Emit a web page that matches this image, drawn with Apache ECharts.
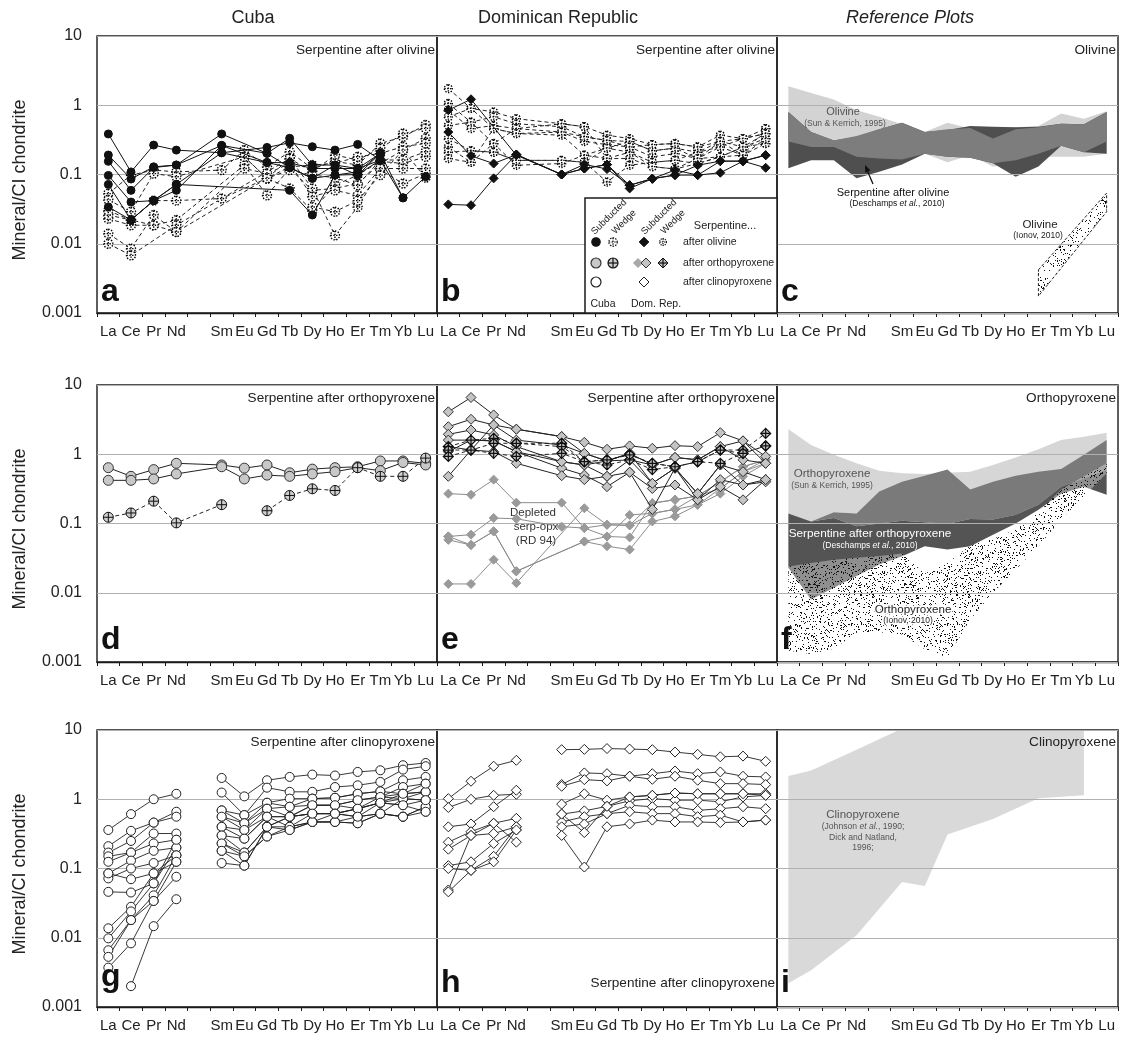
<!DOCTYPE html>
<html><head><meta charset="utf-8">
<script src="https://cdn.jsdelivr.net/npm/echarts/dist/echarts.min.js"></script>
<style>html,body{margin:0;padding:0;background:#fff}#c{width:1121px;height:1040px}</style>
</head><body><div id="c"></div>
<script>
// ---------- categories / ticks ----------
const elements = ['La','Ce','Pr','Nd','Pm','Sm','Eu','Gd','Tb','Dy','Ho','Er','Tm','Yb','Lu'];
const tickLabels = ['La','Ce','Pr','Nd','','Sm','Eu','Gd','Tb','Dy','Ho','Er','Tm','Yb','Lu'];
const yTickLabels = ['0.001','0.01','0.1','1','10'];
const columnTitles = ['Cuba','Dominican Republic','Reference Plots'];
const panelLetters = ['a','b','c','d','e','f','g','h','i'];
const panelNotes = ['Serpentine after olivine','Serpentine after olivine','Olivine',
  'Serpentine after orthopyroxene','Serpentine after orthopyroxene','Orthopyroxene',
  'Serpentine after clinopyroxene','Serpentine after clinopyroxene','Clinopyroxene'];
// null = not measured (line joins over), '-' = line broken there

// ---------- a: Cuba, serpentine after olivine ----------
const cubaOlivineSubducted = [
 [0.385,0.109,0.266,0.225,null,0.206,null,0.246,0.287,0.252,0.225,0.272,0.161,null,null],
 [0.191,0.086,0.129,0.137,null,0.385,null,0.202,0.333,0.137,0.137,0.098,0.202,0.046,0.093],
 [0.155,0.059,0.126,0.137,null,0.263,null,0.149,0.148,0.122,0.122,0.122,0.161,null,null],
 [0.097,0.040,0.042,0.072,null,0.206,null,0.149,0.126,0.088,0.098,0.109,0.202,null,null],
 [0.072,0.022,0.042,0.072,null,null,null,null,0.059,0.026,0.098,0.100,0.161,0.046,null],
 [0.034,0.022,0.042,0.059,null,0.263,null,0.202,0.126,0.088,0.137,0.122,0.202,null,null]
];
const cubaOlivineWedge = [
 [0.053,0.098,0.116,0.109,null,0.116,0.225,0.129,0.213,0.122,0.155,0.137,0.281,0.35,0.52],
 [0.043,0.029,0.103,0.093,null,null,0.18,0.088,0.17,0.109,0.191,0.162,0.238,0.39,0.464],
 [0.023,0.0185,0.0185,0.022,null,null,0.137,0.05,0.122,0.059,0.063,0.074,0.144,0.225,0.333],
 [0.014,0.0085,0.026,0.0148,null,null,null,0.088,0.063,0.03,0.07,0.098,0.155,0.144,0.18],
 [0.010,0.0068,null,0.0185,null,null,null,null,0.17,0.063,0.0132,0.034,0.116,0.074,0.103],
 [0.026,0.022,0.042,0.042,null,0.045,null,0.088,0.116,0.098,0.09,0.07,0.162,0.162,0.213],
 [0.03,0.022,0.0185,0.0148,null,null,0.122,0.103,0.144,0.048,0.059,0.05,0.122,0.122,0.122],
 [null,null,null,null,null,null,0.18,0.088,0.129,0.137,0.145,0.18,0.202,0.252,0.281],
 [null,null,null,null,null,null,null,null,null,0.034,0.029,0.042,0.098,0.225,0.09]
];
// ---------- b: Dominican Republic, serpentine after olivine ----------
const domOlivineSubducted = [
 [0.41,0.186,0.144,0.194,null,0.10,0.122,0.139,0.07,0.087,0.098,0.098,0.106,0.156,0.125],
 [0.037,0.036,0.088,0.194,null,0.10,0.122,0.139,0.063,0.087,0.116,0.098,0.156,0.156,0.19],
 [0.85,1.22,null,0.19,null,0.10,0.14,0.12,0.07,0.087,0.098,0.136,0.156,0.156,0.19]
];
const domOlivineWedge = [
 [1.74,0.9,0.8,0.64,null,0.54,0.49,0.37,0.33,0.27,0.28,0.25,0.37,0.33,0.46],
 [1.06,0.57,0.68,0.54,null,0.49,0.35,0.31,0.30,0.22,0.24,0.21,0.30,0.25,0.39],
 [0.85,0.46,0.51,0.46,null,0.41,0.30,0.27,0.25,0.18,0.20,0.17,0.25,0.19,0.33],
 [0.68,0.9,0.46,0.39,null,0.37,0.19,0.24,0.21,0.15,0.16,0.144,0.18,0.25,0.28],
 [0.51,0.57,0.28,0.46,null,0.54,0.49,0.17,0.17,0.13,0.12,0.17,0.30,0.19,0.46],
 [0.33,0.22,0.21,0.16,null,0.16,0.15,0.078,0.136,0.15,0.16,0.21,0.25,0.33,0.39],
 [0.25,0.15,0.28,0.136,null,0.144,0.19,0.17,0.21,0.13,0.12,0.144,0.18,0.19,0.28],
 [0.21,0.22,0.21,0.16,null,0.16,0.15,0.24,0.30,0.22,0.24,0.17,0.18,0.25,0.33],
 [0.17,0.15,0.46,0.39,null,0.41,0.35,0.31,0.25,0.27,0.28,0.25,0.30,0.33,0.39]
];
// ---------- d: Cuba, serpentine after orthopyroxene ----------
const cubaOpxSubducted = [
 [0.64,0.48,0.60,0.74,null,0.70,0.63,0.70,0.54,0.61,0.64,0.66,0.80,0.80,0.74],
 [0.42,0.42,0.44,0.52,null,0.66,0.44,0.50,0.48,0.52,0.56,0.64,0.58,0.76,0.70]
];
const cubaOpxWedge = [
 [0.123,0.142,0.21,0.102,null,0.187,'-',0.153,0.254,0.317,0.30,0.64,0.48,0.48,0.88]
];
// ---------- e: Dominican Republic, serpentine after orthopyroxene ----------
const domOpxSubducted = [
 [4.1,6.6,3.7,2.3,null,1.8,1.49,1.18,1.32,1.22,1.33,1.29,2.05,1.56,0.93],
 [2.5,3.2,2.65,1.6,null,1.36,1.03,0.8,1.03,0.70,0.9,0.83,1.29,0.83,0.74],
 [1.94,2.24,1.9,1.29,null,0.78,0.7,0.48,0.83,0.38,0.63,0.27,0.70,0.56,0.43],
 [1.6,1.6,1.56,1.09,null,0.63,0.5,0.34,0.55,0.32,0.36,0.22,0.43,0.36,0.40],
 [1.29,1.15,1.09,0.74,null,0.49,0.43,0.48,0.55,0.16,0.63,0.22,0.34,0.22,0.43],
 [0.48,1.15,2.65,2.3,null,1.8,1.03,0.8,0.83,0.70,0.9,0.83,1.29,1.56,0.74],
 [1.09,1.6,1.56,1.09,null,0.78,0.7,0.8,1.03,0.38,0.63,0.27,0.70,0.36,0.43]
];
const domOpxWedge = [
 [1.29,1.6,1.7,1.44,null,1.44,0.78,0.83,0.98,0.74,0.66,0.78,1.15,1.15,2.0],
 [1.15,1.15,1.44,1.44,null,1.29,0.78,0.70,0.83,0.60,0.66,0.78,1.15,1.03,1.32],
 [0.93,1.15,1.03,0.93,null,1.03,0.78,0.83,0.98,0.74,0.66,0.78,0.74,1.03,1.32]
];
const domOpxDepleted = [
 [0.27,0.26,0.43,0.20,null,0.20,0.086,0.065,0.063,0.197,0.22,0.25,0.40,0.66,0.83],
 [0.065,0.069,0.12,0.117,null,0.09,0.086,0.096,0.094,0.14,0.16,0.186,0.32,0.56,0.74],
 [0.058,0.049,0.077,0.0204,null,null,0.055,0.047,0.042,0.107,0.127,0.186,0.27,0.48,0.74],
 [0.0134,0.0134,0.03,0.0138,null,null,0.166,0.096,0.094,0.197,0.22,0.25,0.32,0.56,0.83],
 [0.065,0.049,0.077,0.0204,null,null,0.055,0.065,0.133,0.14,0.16,0.25,0.40,0.66,0.83]
];
// ---------- g: Cuba, serpentine after clinopyroxene ----------
const cubaCpx = [
 [0.36,0.61,1.0,1.2,'-',2.03,1.1,1.88,2.1,2.27,2.2,2.48,2.62,3.1,3.34],
 [0.21,0.35,0.46,0.66,'-',1.25,0.59,1.47,1.28,1.28,1.5,1.59,1.78,2.68,3.0],
 [0.17,0.25,0.46,0.56,'-',0.69,0.59,0.89,1.02,1.02,1.05,1.2,1.3,1.88,2.1],
 [0.15,0.17,0.32,0.32,'-',0.56,0.45,0.89,0.78,0.82,0.82,0.97,1.08,1.5,1.68],
 [0.125,0.17,0.23,0.26,'-',0.40,0.36,0.73,0.56,0.62,0.62,0.73,0.89,1.2,1.28],
 [0.085,0.13,0.18,0.2,'-',0.30,0.27,0.56,0.40,0.47,0.47,0.56,0.62,1.02,0.97],
 [0.072,0.10,0.12,0.155,'-',0.23,0.17,0.40,0.36,0.47,0.47,0.45,0.62,0.56,0.78],
 [0.085,0.07,0.085,0.125,'-',0.18,0.15,0.29,0.40,0.62,0.62,0.56,0.89,0.82,0.66],
 [0.046,0.045,0.061,0.2,'-',0.12,0.11,0.40,0.56,0.82,0.82,0.73,1.08,1.02,0.97],
 [0.0137,0.028,0.085,0.155,'-',0.69,0.45,0.73,0.78,1.02,1.05,1.2,1.3,1.2,1.28],
 [0.0098,0.024,0.061,0.26,'-',0.56,0.36,0.56,0.56,0.62,0.62,0.73,0.89,1.02,1.28],
 [0.0066,0.018,0.041,0.155,'-',0.40,0.27,0.56,0.56,0.82,0.82,0.97,1.08,1.2,1.68],
 [0.0053,0.018,0.034,0.125,'-',0.30,0.17,0.40,0.40,0.47,0.47,0.45,0.62,0.56,0.78],
 [0.0037,0.0083,0.034,0.076,'-',0.23,0.15,0.29,0.36,0.47,0.62,0.73,0.89,0.82,0.97],
 [null,0.002,0.0147,0.036,'-',0.18,0.11,0.40,0.56,0.62,0.62,0.56,0.62,0.56,0.66]
];
// ---------- h: Dominican Republic, serpentine after clinopyroxene ----------
const domCpx = [
 [1.02,1.82,3.0,3.65,'-',5.2,5.25,5.4,5.3,5.2,4.8,4.45,4.1,4.2,3.53],
 [0.76,1.0,1.14,1.18,'-',1.63,2.4,2.34,2.15,2.34,2.56,2.34,2.48,2.15,2.1],
 [0.40,0.44,0.78,1.35,'-',1.54,1.92,1.84,2.15,1.94,2.15,1.88,1.68,1.68,1.63],
 [0.24,0.34,0.45,0.53,'-',0.85,1.2,0.97,1.08,1.14,1.23,1.2,1.2,1.2,1.2],
 [0.19,0.30,0.32,0.40,'-',0.61,0.68,0.79,0.95,1.02,0.97,0.97,0.92,1.08,1.14],
 [0.11,0.125,0.23,0.36,'-',0.47,0.56,0.62,0.82,0.78,0.78,0.69,0.73,0.78,0.73],
 [0.10,0.094,0.15,0.40,'-',0.40,0.44,0.62,0.66,0.62,0.62,0.56,0.59,0.47,0.50],
 [0.049,0.30,0.45,0.24,'-',0.30,0.105,0.40,0.44,0.50,0.47,0.47,0.46,0.47,0.50],
 [0.046,0.094,0.125,0.36,'-',0.61,0.33,0.79,1.08,1.14,1.23,1.2,1.2,1.2,1.14]
];
// ---------- reference fields (upper / lower bounds) ----------
const olSunUpper = [1.88,1.50,1.21,0.85,0.68,0.53,0.41,0.56,0.46,0.45,0.48,0.50,0.76,0.64,0.82];
const olSunLower = [0.30,0.25,0.25,0.24,0.21,0.18,0.20,0.15,0.19,0.13,0.137,0.18,0.18,0.18,0.20];
const olDesUpper = [0.80,0.41,0.31,0.35,0.45,0.56,0.41,0.44,0.50,0.49,0.48,0.49,0.54,0.53,0.80];
const olDesLower = [0.123,0.16,0.16,0.088,0.11,0.14,0.20,0.18,0.175,0.145,0.093,0.13,0.26,0.21,0.20];
const olOverlapUpper = [0.80,0.41,0.31,0.36,0.45,0.56,0.41,0.45,0.47,0.33,0.45,0.48,0.54,0.53,0.80];
const olOverlapLower = [0.30,0.25,0.25,0.18,0.17,0.165,0.20,0.18,0.175,0.145,0.16,0.20,0.26,0.21,0.30];
const olIonovUpper = [null,null,null,null,null,null,null,null,null,null,null,0.0042,null,null,0.054];
const olIonovLower = [null,null,null,null,null,null,null,null,null,null,null,0.00175,null,null,0.029];

const opxSunUpper = [2.29,1.36,0.98,0.74,0.58,0.53,0.52,0.54,0.56,0.70,0.90,1.18,1.61,1.79,2.05];
const opxSunLower = [0.14,0.107,0.145,0.14,0.14,0.12,0.11,0.10,0.116,0.114,0.134,0.187,0.34,0.45,0.60];
const opxOverlapUpper = [0.14,0.107,0.145,0.14,0.29,0.40,0.49,0.60,0.31,0.40,0.49,0.56,0.61,0.98,1.61];
const opxDesUpper = [0.14,0.107,0.12,0.091,0.10,0.11,0.104,0.0995,0.116,0.114,0.134,0.187,0.34,0.45,0.60];
const opxDesLower = [0.023,0.008,0.0118,0.0174,0.0256,0.0337,0.047,0.042,0.047,0.069,0.10,0.158,0.27,0.34,0.26];
const opxIonovUpper = [0.024,0.027,0.030,0.032,0.034,0.037,0.019,0.027,0.048,0.060,0.081,0.145,0.31,0.48,0.74];
const opxIonovLower = [0.00145,0.0013,0.00156,0.00265,0.0027,0.0025,0.00153,0.00116,0.0041,0.010,0.0217,0.047,0.114,0.246,0.53];

const cpxUpper = [2.16,2.61,null,5.2,null,10.5,null,null,null,null,null,null,null,14,null];
const cpxLower = [0.0022,0.0034,null,0.0109,null,0.064,0.056,0.31,null,0.52,null,1.03,null,1.14,null];

// ---------- layout ----------
const FF = '"Liberation Sans", Arial, Helvetica, sans-serif';
const COL_L = [97, 437, 777], COL_W = [340, 340, 341], ROW_T = [36, 385, 730], ROW_H = 277;

const chart = echarts.init(document.getElementById('c'), null, {renderer: 'canvas'});

// stipple texture (deterministic dot pattern, style only)
function stipple(bg, count) {
  const N = 96;
  const c = document.createElement('canvas'); c.width = N; c.height = N;
  const g = c.getContext('2d');
  g.fillStyle = bg; g.fillRect(0, 0, N, N);
  g.fillStyle = '#111';
  let a = 20240611;
  const rnd = () => { a |= 0; a = a + 0x6D2B79F5 | 0; let t = Math.imul(a ^ a >>> 15, 1 | a);
    t = t + Math.imul(t ^ t >>> 7, 61 | t) ^ t; return ((t ^ t >>> 14) >>> 0) / 4294967296; };
  for (let k = 0; k < count; k++) g.fillRect(Math.floor(rnd() * N), Math.floor(rnd() * N), 1, 1);
  return c;
}
const stippleFill = {image: stipple('rgba(255,255,255,0.35)', 1200), repeat: 'repeat'};
const stippleLight = {image: stipple('rgba(255,255,255,0.95)', 900), repeat: 'repeat'};

const grids = [], xAxes = [], yAxes = [];
for (let r = 0; r < 3; r++) for (let c = 0; c < 3; c++) {
  const gi = r * 3 + c;
  grids.push({left: COL_L[c], top: ROW_T[r], width: COL_W[c], height: ROW_H, show: true,
    borderColor: '#1a1a1a', borderWidth: 1.4, backgroundColor: 'rgba(0,0,0,0)'});
  xAxes.push({type: 'category', gridIndex: gi, data: elements, boundaryGap: true,
    axisLine: {lineStyle: {color: '#1a1a1a', width: 1.4}},
    axisTick: {show: true, interval: 0, length: 4, lineStyle: {color: '#1a1a1a'}},
    axisLabel: {interval: 0, fontSize: 15, fontFamily: FF, color: '#222', margin: 11,
      formatter: (v, i) => tickLabels[i]},
    splitLine: {show: false}});
  yAxes.push({type: 'log', logBase: 10, min: 0.001, max: 10, gridIndex: gi, z: c === 2 ? 3 : 0,
    axisLine: {show: false}, axisTick: {show: false},
    axisLabel: {show: c === 0, fontSize: 16, fontFamily: FF, color: '#222', margin: 15,
      formatter: v => yTickLabels[Math.round(Math.log10(v)) + 3]},
    splitLine: {show: true, lineStyle: {color: '#b0b0b0', width: 1}}});
}

function toPairs(arr) {
  const out = [];
  arr.forEach((v, i) => { if (v === null) return; out.push([elements[i], v === '-' ? null : v]); });
  return out;
}
function lines(gi, sets, st) {
  return sets.map(arr => ({type: 'line', xAxisIndex: gi, yAxisIndex: gi, data: toPairs(arr),
    symbol: st.symbol, symbolSize: st.size, showAllSymbol: true, connectNulls: false, silent: true,
    lineStyle: {color: st.line, width: st.lw || 1, type: st.dash || 'solid'},
    itemStyle: {color: st.fill, borderColor: st.border, borderWidth: st.bw || 1, borderType: st.bt || 'solid'},
    z: st.z || 2}));
}
function band(gi, upper, lower, style) {
  return {type: 'custom', xAxisIndex: gi, yAxisIndex: gi, clip: true, silent: true, z: 1,
    data: [[0, 1]],
    renderItem: (p, api) => {
      const pts = [];
      upper.forEach((v, i) => { if (v !== null) pts.push(api.coord([i, v])); });
      for (let i = lower.length - 1; i >= 0; i--) if (lower[i] !== null) pts.push(api.coord([i, lower[i]]));
      return {type: 'polygon', shape: {points: pts}, style: Object.assign({}, style)};
    }};
}

const CROSS_CIRCLE = 'path://M10,0A10,10,0,1,1,10,20A10,10,0,1,1,10,0ZM10,0L10,20M0,10L20,10';
const CROSS_DIAMOND = 'path://M10,0L20,10L10,20L0,10ZM10,0L10,20M0,10L20,10';

const series = [].concat(
  lines(0, cubaOlivineWedge, {symbol: CROSS_CIRCLE, size: 9, fill: '#fff', border: '#000', bw: 1.4, bt: 'dotted', line: '#222', dash: [4, 3]}),
  lines(0, cubaOlivineSubducted, {symbol: 'circle', size: 8, fill: '#111', border: '#111', line: '#111', z: 3}),
  lines(1, domOlivineWedge, {symbol: CROSS_CIRCLE, size: 8, fill: '#fff', border: '#000', bw: 1.4, bt: 'dotted', line: '#222', dash: [4, 3]}),
  lines(1, domOlivineSubducted, {symbol: 'diamond', size: 9, fill: '#111', border: '#111', line: '#111', z: 3}),
  band(2, olSunUpper, olSunLower, {fill: '#d3d3d3'}),
  band(2, olDesUpper, olDesLower, {fill: '#4f4f4f'}),
  band(2, olOverlapUpper, olOverlapLower, {fill: '#7d7d7d'}),
  band(2, olIonovUpper, olIonovLower, {fill: stippleLight, stroke: '#222', lineWidth: 1, lineDash: [3, 2]}),
  lines(3, cubaOpxSubducted, {symbol: 'circle', size: 10, fill: '#c8c8c8', border: '#333', line: '#222'}),
  lines(3, cubaOpxWedge, {symbol: CROSS_CIRCLE, size: 10, fill: '#cfcfcf', border: '#111', bw: 1, line: '#222', dash: [4, 3]}),
  lines(4, domOpxDepleted, {symbol: 'diamond', size: 9, fill: '#9a9a9a', border: '#9a9a9a', line: '#8c8c8c'}),
  lines(4, domOpxSubducted, {symbol: 'diamond', size: 10, fill: '#c4c4c4', border: '#333', line: '#222', z: 3}),
  lines(4, domOpxWedge, {symbol: CROSS_DIAMOND, size: 10, fill: '#c4c4c4', border: '#111', bw: 1.2, line: '#222', dash: [4, 3], z: 4}),
  band(5, opxSunUpper, opxSunLower, {fill: '#d6d6d6'}),
  band(5, opxOverlapUpper, opxDesUpper, {fill: '#7a7a7a'}),
  band(5, opxDesUpper, opxDesLower, {fill: '#545454'}),
  band(5, opxIonovUpper, opxIonovLower, {fill: stippleFill}),
  lines(6, cubaCpx, {symbol: 'circle', size: 9, fill: '#fff', border: '#222', line: '#222', lw: 0.9}),
  lines(7, domCpx, {symbol: 'diamond', size: 10, fill: '#fff', border: '#222', line: '#222', lw: 0.9}),
  band(8, cpxUpper, cpxLower, {fill: '#d9d9d9'})
);

// ---------- text & legend graphics ----------
function txt(x, y, text, size, o) {
  o = o || {};
  const st = {text, font: `${o.italic ? 'italic ' : ''}${o.bold ? 'bold ' : ''}${size}px ${FF}`,
    fill: o.color || '#222', align: o.align || 'center', verticalAlign: o.va || 'middle'};
  if (o.rich) st.rich = o.rich;
  if (o.halo) { st.stroke = o.halo; st.lineWidth = 3; }
  return {type: 'text', x, y, rotation: o.rot || 0, z: o.z === undefined ? 100 : o.z, silent: true, style: st};
}
const itRich = (size, color) => ({i: {font: `italic ${size}px ${FF}`, fill: color}});
const G = [];
G.push(txt(253, 18, columnTitles[0], 18));
G.push(txt(558, 18, columnTitles[1], 18));
G.push(txt(910, 18, columnTitles[2], 18, {italic: true}));
ROW_T.forEach(t => G.push(txt(20.5, t + 144, 'Mineral/CI chondrite', 18, {rot: Math.PI / 2})));
const noteY = [50, 398, 742];
for (let r = 0; r < 3; r++) for (let c = 0; c < 3; c++) {
  const gi = r * 3 + c;
  const right = COL_L[c] + COL_W[c] - 2;
  const y = gi === 7 ? 983 : noteY[r];
  G.push(txt(right, y, panelNotes[gi], 13.6, {align: 'right'}));
  const bottom = ROW_T[r] + ROW_H;
  const by = r === 0 ? bottom - 5 : r === 1 ? bottom - 6 : (gi === 6 ? bottom - 14 : bottom - 8);
  G.push(txt(COL_L[c] + 4, by, panelLetters[gi], 32, {bold: true, align: 'left', va: 'bottom', color: '#111'}));
}
// panel c labels
G.push(txt(843, 112, 'Olivine', 11, {color: '#555'}));
G.push(txt(845, 124, '(Sun & Kerrich, 1995)', 8.5, {color: '#555'}));
G.push(txt(893, 193, 'Serpentine after olivine', 11, {color: '#111'}));
G.push(txt(897, 204, '(Deschamps {i|et al.}, 2010)', 8.5, {color: '#111', rich: itRich(8.5, '#111')}));
G.push({type: 'line', z: 100, silent: true, shape: {x1: 873, y1: 184, x2: 867, y2: 170}, style: {stroke: '#111', lineWidth: 1.3}});
G.push({type: 'polygon', z: 100, silent: true, shape: {points: [[865, 165], [870.6, 170.4], [865.2, 172.8]]}, style: {fill: '#111'}});
G.push(txt(1040, 225, 'Olivine', 11.5, {color: '#222'}));
G.push(txt(1038, 236, '(Ionov, 2010)', 8.5, {color: '#222'}));
// panel e label
G.push(txt(533, 513, 'Depleted', 11.5, {color: '#333', z: 1}));
G.push(txt(536, 527, 'serp-opx', 11.5, {color: '#333', z: 1}));
G.push(txt(536, 541, '(RD 94)', 11.5, {color: '#333', z: 1}));
// panel f labels
G.push(txt(832, 474, 'Orthopyroxene', 11.6, {color: '#555'}));
G.push(txt(832, 486, '(Sun & Kerrich, 1995)', 8.5, {color: '#555'}));
G.push(txt(870, 534, 'Serpentine after orthopyroxene', 11.8, {color: '#fff'}));
G.push(txt(870, 546, '(Deschamps {i|et al.}, 2010)', 8.5, {color: '#fff', rich: itRich(8.5, '#fff')}));
G.push(txt(913, 610, 'Orthopyroxene', 11.6, {color: '#222', halo: '#fff'}));
G.push(txt(908, 621, '(Ionov, 2010)', 8.5, {color: '#222', halo: '#fff'}));
// panel i labels
G.push(txt(863, 815, 'Clinopyroxene', 11.5, {color: '#555'}));
G.push(txt(863, 827, '(Johnson {i|et al.}, 1990;', 8.6, {color: '#555', rich: itRich(8.6, '#555')}));
G.push(txt(863, 838, 'Dick and Natland,', 8.6, {color: '#555'}));
G.push(txt(863, 848, '1996;', 8.6, {color: '#555'}));
// legend box in panel b
G.push({type: 'rect', z: 90, silent: true, shape: {x: 585, y: 198, width: 192, height: 115}, style: {fill: '#fff', stroke: '#1a1a1a', lineWidth: 1.5}});
const R45 = Math.PI / 4;
G.push(txt(609, 217, 'Subducted', 9.5, {rot: R45}));
G.push(txt(624, 222, 'Wedge', 9.5, {rot: R45}));
G.push(txt(659, 217, 'Subducted', 9.5, {rot: R45}));
G.push(txt(673, 222, 'Wedge', 9.5, {rot: R45}));
G.push(txt(725, 226, 'Serpentine...', 11));
G.push(txt(683, 242, 'after olivine', 10.5, {align: 'left'}));
G.push(txt(683, 263, 'after orthopyroxene', 10.5, {align: 'left'}));
G.push(txt(683, 282, 'after clinopyroxene', 10.5, {align: 'left'}));
G.push(txt(603, 304, 'Cuba', 10.5));
G.push(txt(656, 304, 'Dom. Rep.', 10.5));
function lgCircle(cx, cy, r, fill, stroke, dash) {
  return {type: 'circle', z: 100, silent: true, shape: {cx, cy, r}, style: {fill, stroke, lineWidth: 1.2, lineDash: dash || null}};
}
function lgCross(cx, cy, r, dash) {
  return [
    {type: 'line', z: 101, silent: true, shape: {x1: cx - r, y1: cy, x2: cx + r, y2: cy}, style: {stroke: '#111', lineWidth: 1.2, lineDash: dash || null}},
    {type: 'line', z: 101, silent: true, shape: {x1: cx, y1: cy - r, x2: cx, y2: cy + r}, style: {stroke: '#111', lineWidth: 1.2, lineDash: dash || null}}
  ];
}
function lgDiamond(cx, cy, h, fill, stroke) {
  return {type: 'polygon', z: 100, silent: true, shape: {points: [[cx, cy - h], [cx + h, cy], [cx, cy + h], [cx - h, cy]]}, style: {fill, stroke, lineWidth: 1}};
}
G.push(lgCircle(596, 242, 4.2, '#111', '#111'));
G.push(lgCircle(613, 242, 4.2, '#fff', '#111', [1.5, 1.2]), ...lgCross(613, 242, 4.2, [1.5, 1.2]));
G.push(lgDiamond(644, 242, 4.8, '#111', '#111'));
G.push(lgCircle(663, 242, 3.4, '#fff', '#111', [1.2, 1]), ...lgCross(663, 242, 3.4, [1.2, 1]));
G.push(lgCircle(596, 263, 5, '#c8c8c8', '#333'));
G.push(lgCircle(613, 263, 5, '#cfcfcf', '#111'), ...lgCross(613, 263, 5));
G.push(lgDiamond(638, 263, 4.5, '#a8a8a8', '#a8a8a8'));
G.push(lgDiamond(646, 263, 5, '#c4c4c4', '#333'));
G.push(lgDiamond(663, 263, 5, '#c4c4c4', '#111'), ...lgCross(663, 263, 5));
G.push(lgCircle(596, 282, 5, '#fff', '#222'));
G.push(lgDiamond(644, 282, 5, '#fff', '#222'));

chart.setOption({
  animation: false,
  backgroundColor: '#fff',
  textStyle: {fontFamily: FF},
  grid: grids, xAxis: xAxes, yAxis: yAxes,
  series: series,
  graphic: {elements: G}
});
</script></body></html>
